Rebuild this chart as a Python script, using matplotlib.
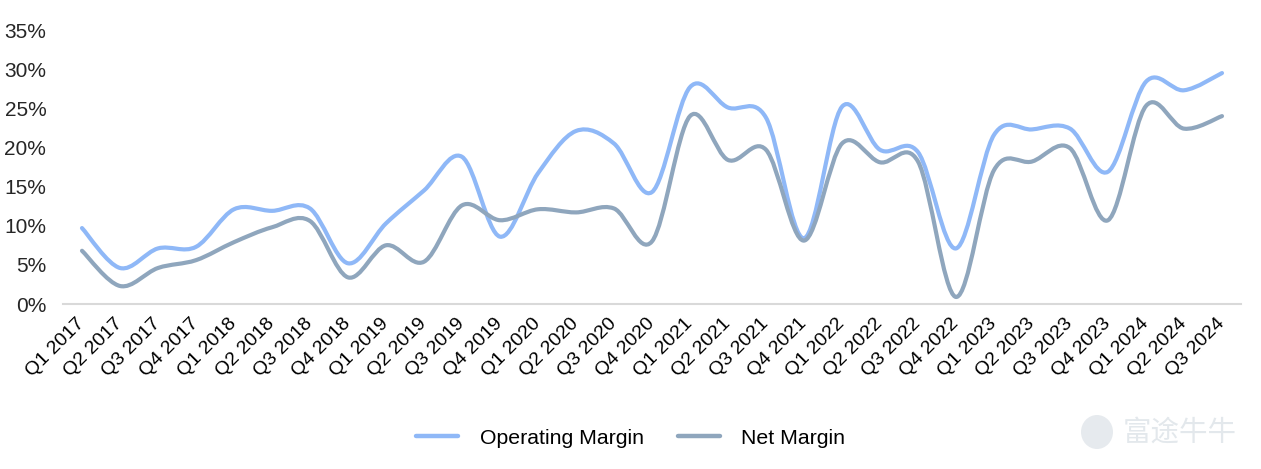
import numpy as np
import matplotlib
matplotlib.use("Agg")
import matplotlib.pyplot as plt
from matplotlib.path import Path
from matplotlib.patches import PathPatch, Ellipse
from matplotlib.lines import Line2D

quarters = ["Q1 2017", "Q2 2017", "Q3 2017", "Q4 2017",
            "Q1 2018", "Q2 2018", "Q3 2018", "Q4 2018",
            "Q1 2019", "Q2 2019", "Q3 2019", "Q4 2019",
            "Q1 2020", "Q2 2020", "Q3 2020", "Q4 2020",
            "Q1 2021", "Q2 2021", "Q3 2021", "Q4 2021",
            "Q1 2022", "Q2 2022", "Q3 2022", "Q4 2022",
            "Q1 2023", "Q2 2023", "Q3 2023", "Q4 2023",
            "Q1 2024", "Q2 2024", "Q3 2024"]

operating_margin = [9.7, 4.6, 7.1, 7.3, 12.1, 11.9, 12.2, 5.2, 10.3, 14.5,
                    18.8, 8.6, 16.7, 22.1, 20.5, 14.3, 27.7, 25.1, 23.8, 8.4,
                    25.2, 19.7, 19.4, 7.1, 21.6, 22.3, 22.4, 16.9, 28.4, 27.3, 29.5]

net_margin = [6.8, 2.3, 4.6, 5.6, 7.9, 9.8, 10.6, 3.4, 7.5, 5.4,
              12.6, 10.7, 12.1, 11.7, 12.2, 8.0, 24.0, 18.4, 19.7, 8.1,
              20.5, 18.1, 18.2, 0.9, 17.1, 18.2, 19.9, 10.7, 25.3, 22.4, 24.0]

series_names = ["Operating Margin", "Net Margin"]
series_colors = ["#8fb8f7", "#8fa6bd"]

plt.rcParams['font.family'] = ['Liberation Sans', 'DejaVu Sans']

W, H = 1261, 469
fig = plt.figure(figsize=(W / 100, H / 100), dpi=100)
ax = fig.add_axes([63/W, 1 - 304/H, (1241 - 63)/W, (304 - 30)/H])


def smooth_path(xs, ys):
    xs = np.asarray(xs, float)
    ys = np.asarray(ys, float)
    n = len(xs)
    verts = [(xs[0], ys[0])]
    codes = [Path.MOVETO]
    for i in range(n - 1):
        p0 = (xs[max(i - 1, 0)], ys[max(i - 1, 0)])
        p1 = (xs[i], ys[i])
        p2 = (xs[i + 1], ys[i + 1])
        p3 = (xs[min(i + 2, n - 1)], ys[min(i + 2, n - 1)])
        c1 = (p1[0] + (p2[0] - p0[0]) / 6, p1[1] + (p2[1] - p0[1]) / 6)
        c2 = (p2[0] - (p3[0] - p1[0]) / 6, p2[1] - (p3[1] - p1[1]) / 6)
        verts += [c1, c2, p2]
        codes += [Path.CURVE4] * 3
    return Path(verts, codes)


x = np.arange(len(quarters))
for vals, col in zip([operating_margin, net_margin], series_colors):
    y = np.array(vals) / 100.0
    patch = PathPatch(smooth_path(x, y), facecolor='none', edgecolor=col,
                      lw=3.0, capstyle='round', joinstyle='round')
    ax.add_patch(patch)

yt = np.arange(0, 0.351, 0.05)
ax.set_xlim(-0.5, len(quarters) - 0.5)
ax.set_ylim(0, 0.35)
ax.set_yticks(yt)
ax.set_yticklabels([f"{int(round(v*100))}%" for v in yt], fontsize=15, color="#262626")
ax.set_xticks(x)
ax.set_xticklabels(quarters, rotation=45, ha='right', va='center',
                   rotation_mode='anchor', fontsize=14, color="#000000")
ax.tick_params(axis='both', length=0)
ax.tick_params(axis='x', pad=12)
ax.tick_params(axis='y', pad=12)
for s in ['top', 'right', 'left']:
    ax.spines[s].set_visible(False)
ax.spines['bottom'].set_color('#d9d9d9')
ax.spines['bottom'].set_linewidth(1.5)

handles = [Line2D([0], [0], color=c, lw=3.2, solid_capstyle='round') for c in series_colors]
fig.legend(handles, series_names, loc='center', bbox_to_anchor=(0.5, 1 - 438/H),
           ncol=2, frameon=False, fontsize=15.3, handlelength=2.0, columnspacing=1.6,
           handletextpad=1.0)

# watermark
fig.text(1123/W, 1 - 433/H, "富途牛牛", fontsize=20.5, color="#e3e8ec",
         family=['Noto Sans CJK SC', 'DejaVu Sans'], ha='left', va='center')
fig.add_artist(Ellipse((1097/W, 1 - 432/H), 32/W, 34/H, transform=fig.transFigure,
                       facecolor='#e6eaee', edgecolor='none'))

fig.savefig("out.png", dpi=100)
